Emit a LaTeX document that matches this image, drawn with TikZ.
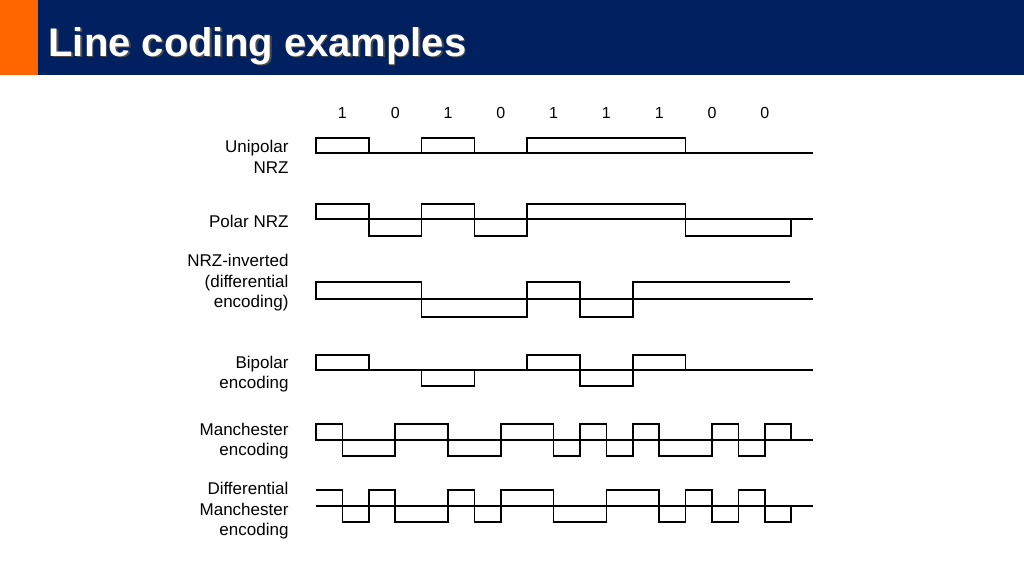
\documentclass[tikz,border=0pt]{standalone}
\usepackage{fontspec}
\setmainfont{Liberation Sans}
\definecolor{barblue}{RGB}{0,32,96}
\definecolor{barorange}{RGB}{255,102,0}
\tikzset{
  wave/.style={line width=1.6pt, line join=miter},
  axisline/.style={line width=1.6pt},
  siglabel/.style={anchor=east, align=right, font=\fontsize{17}{20.5}\selectfont},
  bitlabel/.style={font=\fontsize{16}{18}\selectfont},
  titletext/.style={anchor=west, font=\fontsize{40}{44}\selectfont\bfseries}
}
\newcommand{\bitx}[1]{316+52.8*#1}
\begin{document}
\begin{tikzpicture}[x=1pt, y=-1pt]
  \useasboundingbox (0,0) rectangle (1024,576);
  \fill[barblue] (0,0) rectangle (1024,75);
  \fill[barorange] (0,0) rectangle (38,75);
  \node (titleshadow) [titletext, text=black!70] at (46.5,47.5) {Line coding examples};
  \node (title) [titletext, text=white] at (45,46) {Line coding examples};

  % bits
  \foreach \b [count=\i from 0] in {1,0,1,0,1,1,1,0,0}
    \node (bit\i) [bitlabel] at ({\bitx{\i}+26.4},113) {\b};

  % labels
  \node (lunipolar) [siglabel] at (292,157) {Unipolar\\NRZ};
  \node (lpolar) [siglabel] at (292,221) {Polar NRZ};
  \node (lnrzi) [siglabel] at (292,283) {NRZ-inverted\\(differential\\encoding)};
  \node (lbipolar) [siglabel] at (292,374) {Bipolar\\encoding};
  \node (lmanch) [siglabel] at (292,441) {Manchester\\encoding};
  \node (ldiff) [siglabel] at (292,511) {Differential\\Manchester\\encoding};

  % unipolar NRZ
  \draw[axisline] (316,153) -- (813,153);
  \foreach \a/\e in {0/1,2/3,4/7}
    \draw[wave] ({\bitx{\a}},153) rectangle ({\bitx{\e}},138);

  % polar NRZ
  \draw[axisline] (316,219) -- (813,219);
  \foreach \a/\e/\lv in {0/1/204,1/2/236,2/3/204,3/4/236,4/7/204,7/9/236}
    \draw[wave] ({\bitx{\a}},219) rectangle ({\bitx{\e}},\lv);

  % NRZ-inverted
  \draw[axisline] (316,299) -- (813,299);
  \foreach \a/\e/\lv in {0/2/282,2/4/317,4/5/282,5/6/317}
    \draw[wave] ({\bitx{\a}},299) rectangle ({\bitx{\e}},\lv);
  \draw[wave] ({\bitx{6}},299) |- (790,282);

  % bipolar
  \draw[axisline] (316,370) -- (813,370);
  \foreach \a/\e/\lv in {0/1/355,2/3/386,4/5/355,5/6/386,6/7/355}
    \draw[wave] ({\bitx{\a}},370) rectangle ({\bitx{\e}},\lv);

  % Manchester
  \draw[axisline] (316,440) -- (813,440);
  \foreach \a/\e/\lv in {0/1/424,1/3/456,3/5/424,5/7/456,7/9/424,9/10/456,
                         10/11/424,11/12/456,12/13/424,13/15/456,15/16/424,
                         16/17/456,17/18/424}
    \draw[wave] ({\bitx{\a/2}},440) rectangle ({\bitx{\e/2}},\lv);

  % differential Manchester
  \draw[axisline] (316,506) -- (813,506);
  \draw[wave] (316,490) -| ({\bitx{0.5}},506);
  \foreach \a/\e/\lv in {1/2/522,2/3/490,3/5/522,5/6/490,6/7/522,7/9/490,
                         9/11/522,11/13/490,13/14/522,14/15/490,15/16/522,
                         16/17/490,17/18/522}
    \draw[wave] ({\bitx{\a/2}},506) rectangle ({\bitx{\e/2}},\lv);
\end{tikzpicture}
\end{document}
